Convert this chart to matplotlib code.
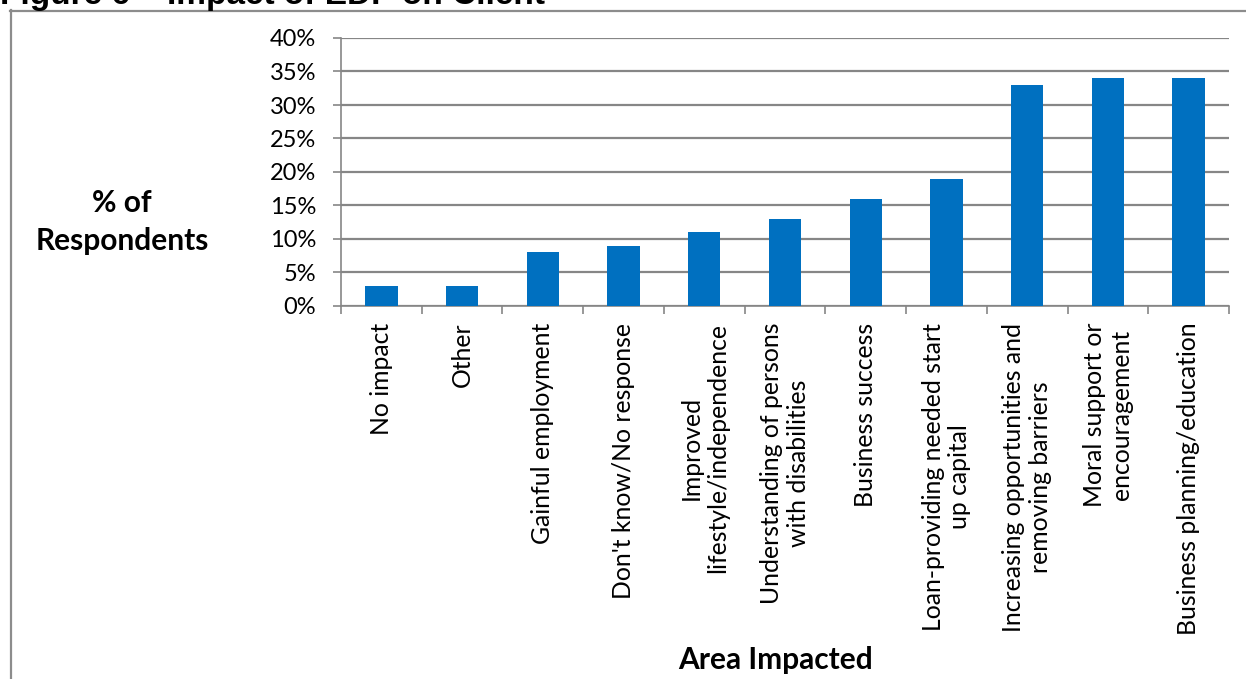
import matplotlib
matplotlib.use("Agg")
import matplotlib.pyplot as plt
from matplotlib.lines import Line2D
import numpy as np

categories = [
    "No impact",
    "Other",
    "Gainful employment",
    "Don't know/No response",
    "Improved\nlifestyle/independence",
    "Understanding of persons\nwith disabilities",
    "Business success",
    "Loan-providing needed start\nup capital",
    "Increasing opportunities and\nremoving barriers",
    "Moral support or\nencouragement",
    "Business planning/education",
]
percent = [3, 3, 8, 9, 11, 13, 16, 19, 33, 34, 34]
y_ticks = [0, 5, 10, 15, 20, 25, 30, 35, 40]

W, H = 1246, 679
fig = plt.figure(figsize=(W / 100, H / 100), dpi=100)
fig.patch.set_facecolor("white")

FONT = "Lato"
GRID = "#868686"
BAR = "#0070C0"

ax = fig.add_axes([341 / W, 1 - 306 / H, 888 / W, 268 / H])
x = np.arange(len(categories))
ax.bar(x, percent, width=0.4, color=BAR, zorder=3)
ax.set_xlim(-0.5, len(categories) - 0.5)
ax.set_ylim(0, 40)

ax.set_yticks(y_ticks)
ax.set_yticklabels([f"{v}%" for v in y_ticks], fontfamily=FONT, fontsize=17)
ax.yaxis.grid(True, color=GRID, linewidth=1.6, zorder=0)
ax.tick_params(axis="y", length=6, width=1.2, color=GRID, pad=12)

# category boundaries get the x tick marks; labels sit at the centres
ax.set_xticks(np.arange(-0.5, len(categories) + 0.5, 1))
ax.set_xticklabels([])
ax.tick_params(axis="x", length=6, width=1.2, color=GRID)
for xi, lab in zip(x, categories):
    ax.annotate(lab, xy=(xi, 0), xycoords=("data", "axes fraction"),
                xytext=(0, -12), textcoords="offset points",
                rotation=90, ha="center", va="top", multialignment="center",
                fontfamily=FONT, fontsize=17.8, linespacing=1.2)

for s in ("top", "right"):
    ax.spines[s].set_visible(False)
for s in ("left", "bottom"):
    ax.spines[s].set_color(GRID)
    ax.spines[s].set_linewidth(1.2)

fig.text(122 / W, 1 - 222 / H, "% of\nRespondents", ha="center", va="center",
         fontfamily=FONT, fontweight="bold", fontsize=21.5, linespacing=1.45)
fig.text(776 / W, 1 - 660 / H, "Area Impacted", ha="center", va="center",
         fontfamily=FONT, fontweight="bold", fontsize=21.5)

# outer frame of the chart
fig.add_artist(Line2D([10.5 / W, 10.5 / W], [0, 1 - 10 / H], transform=fig.transFigure,
                      color="#8c8c8c", linewidth=1.6))
fig.add_artist(Line2D([10 / W, 1], [1 - 10.5 / H, 1 - 10.5 / H], transform=fig.transFigure,
                      color="#8c8c8c", linewidth=1.6))

fig.text(0, 1 - 4 / H, "Figure 6 \u2013 Impact of EDP on Client", ha="left", va="baseline",
         fontfamily="Liberation Sans", fontweight="bold", fontsize=24)

fig.savefig("out.png", dpi=100)
